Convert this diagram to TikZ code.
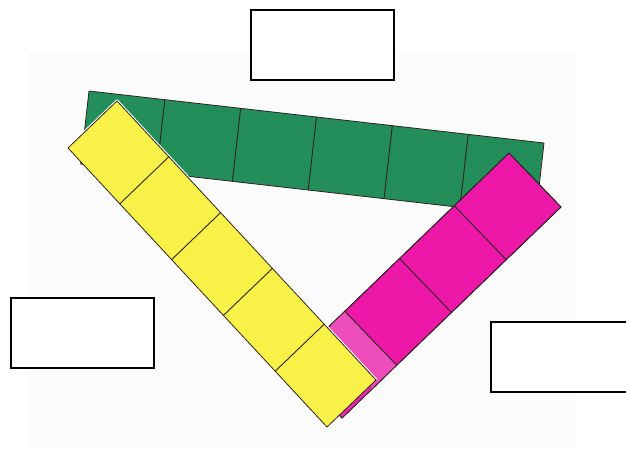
\documentclass[tikz,border=0pt]{standalone}
\usetikzlibrary{calc}
\definecolor{grn}{RGB}{36,142,90}
\definecolor{ylw}{RGB}{248,242,72}
\definecolor{mag}{RGB}{238,24,168}
\definecolor{magl}{RGB}{238,78,186}
\definecolor{edgec}{RGB}{45,35,35}
\definecolor{paper}{RGB}{251,251,251}
\begin{document}
\begin{tikzpicture}[x=1pt,y=-1pt,
  box/.style={draw=black, line width=2pt, fill=white, inner sep=0pt, minimum width=143pt, minimum height=70pt},
  strip/.style={draw=edgec, line width=0.8pt, line join=round},
  divline/.style={draw=edgec, line width=0.9pt}
]
\useasboundingbox (0,0) rectangle (626,448);
\clip (0,0) rectangle (626,448);
\fill[white] (0,0) rectangle (626,448);
\fill[paper] (29,53) rectangle (576,448);

% green strip
\coordinate (gTL) at (89,91);
\coordinate (gTR) at (544,143);
\coordinate (gBL) at (80.7,164);
\coordinate (gBR) at (535.7,216);
\filldraw[strip, fill=grn] (gTL) -- (gTR) -- (gBR) -- (gBL) -- cycle;
\foreach \k in {1,...,5}
  \draw[divline] ($(gTL)!\k/6!(gTR)$) -- ($(gBL)!\k/6!(gBR)$);

% magenta strip
\coordinate (mT) at (509,153);
\coordinate (mR) at (561,207);
\coordinate (mBL) at (290,364);
\coordinate (mBR) at (342,418);
\filldraw[strip, fill=mag] (mT) -- (mR) -- (mBR) -- (mBL) -- cycle;
\fill[magl] ($(mT)!3/4!(mBL)$) -- ($(mR)!3/4!(mBR)$) -- (mBR) -- (mBL) -- cycle;
\fill[mag!70!magl] ($(mT)!0.86!(mBL)$) -- ($(mR)!0.86!(mBR)$) -- (mBR) -- (mBL) -- cycle;
\draw[strip, fill=none] (mT) -- (mR) -- (mBR) -- (mBL) -- cycle;
\foreach \k in {1,...,3}
  \draw[divline] ($(mT)!\k/4!(mBL)$) -- ($(mR)!\k/4!(mBR)$);

% yellow strip
\coordinate (yL) at (68,148);
\coordinate (yT) at (117,101);
\coordinate (yB) at (327,427);
\coordinate (yR) at (376,380);
\draw[white, line width=3pt, line join=round] (yL) -- (yT) -- (yR);
\filldraw[strip, fill=ylw] (yL) -- (yT) -- (yR) -- (yB) -- cycle;
\foreach \k in {1,...,4}
  \draw[divline] ($(yL)!\k/5!(yB)$) -- ($(yT)!\k/5!(yR)$);

% empty boxes
\node[box] (topbox) at (322.5,45) {};
\node[box] (leftbox) at (82,333) {};
\node[box] (rightbox) at (562.5,357) {};
\end{tikzpicture}
\end{document}
